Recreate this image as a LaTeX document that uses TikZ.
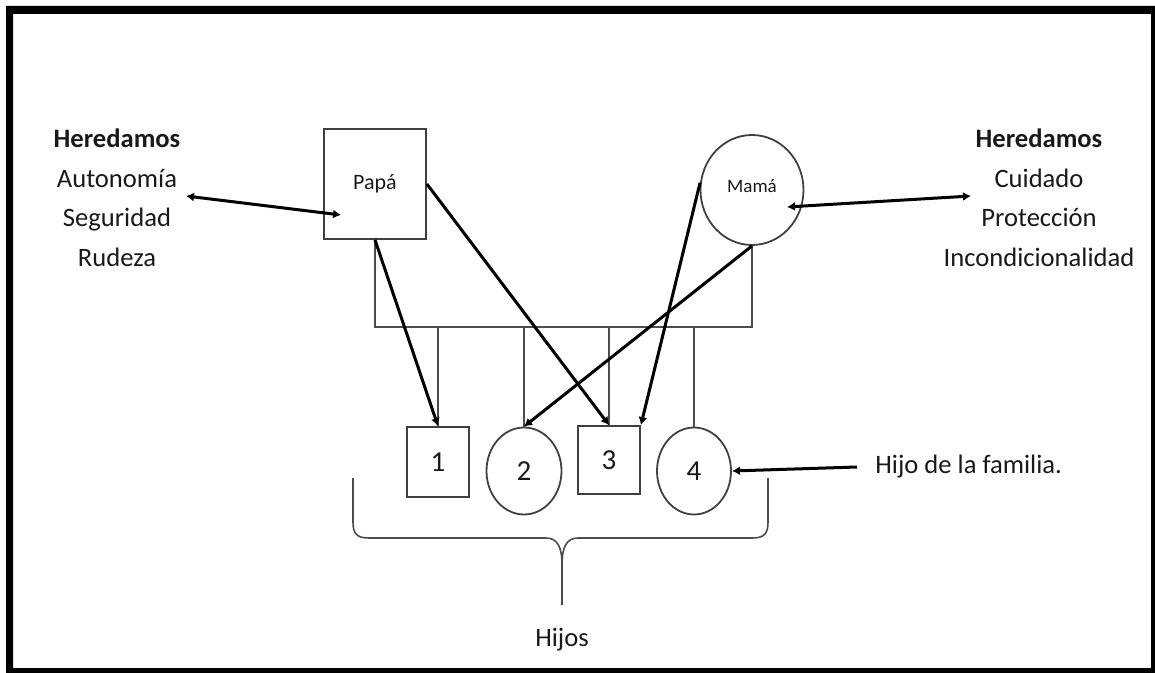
\documentclass[tikz,border=0pt]{standalone}
\usepackage{fontspec}
\setmainfont{Carlito}
\usetikzlibrary{positioning,arrows.meta,shapes.geometric}

\begin{document}
\begin{tikzpicture}[
  x=0.5pt, y=-0.5pt,
  font=\fontsize{13.3}{19.75}\selectfont,
  every node/.style={text=black!90},
  male/.style={rectangle, draw=black!75, line width=0.9pt, inner sep=0pt,
               minimum width=#1},
  female/.style={ellipse, draw=black!75, line width=0.9pt, inner sep=0pt},
  kid/.style={font=\fontsize{14.5}{16}\selectfont},
  link/.style={draw=black!70, line width=0.8pt},
  arrow/.style={-{Latex[length=4pt,width=4.5pt]}, line width=1.5pt, draw=black},
  both/.style={{Latex[length=4pt,width=4.5pt]}-{Latex[length=4pt,width=4.5pt]},
               line width=1.5pt, draw=black},
  lbl/.style={align=center, inner sep=0pt},
]
\useasboundingbox (0,0) rectangle (1155,673);

% ---- frame ----
\fill[black, even odd rule] (6,6) rectangle (1165,683) (13,14) rectangle (1151,668);

% ---- parents ----
\node[male=51pt, minimum height=55pt] (papa) at (375,184)
      {\fontsize{11}{12}\selectfont Papá};
\node[female, minimum width=51.5pt, minimum height=55pt] (mama) at (752,190)
      {\fontsize{9.5}{11}\selectfont\raisebox{4pt}{Mamá}};

% ---- children ----
\node[male=31pt, minimum height=35pt, kid] (c1) at (438,462) {1};
\node[female, minimum width=37.5pt, minimum height=43.5pt, kid] (c2) at (524,471) {2};
\node[male=31pt, minimum height=34pt, kid] (c3) at (609,460) {3};
\node[female, minimum width=37pt, minimum height=43.5pt, kid] (c4) at (694,471) {4};

% ---- family bar and drops ----
\coordinate (bar) at (0,327);
\draw[link] (papa.south) -- (papa.south |- bar) -| (mama.south);
\foreach \c in {c1,c2,c3,c4}
  \draw[link] (\c.north |- bar) -- (\c.north);

% ---- inheritance arrows ----
\draw[arrow] (papa.south) -- (c1.north);
\draw[arrow] (papa.east) -- (c3.north);
\draw[arrow] (mama.172) -- (c3.north east);
\draw[arrow] (mama.south) -- (c2.north);

% ---- side texts ----
\node[lbl] (left) at (117,198)
   {\textbf{Heredamos}\\Autonomía\\Seguridad\\Rudeza};
\node[lbl] (right) at (1039,198)
   {\textbf{Heredamos}\\Cuidado\\Protección\\Incondicionalidad};
\coordinate (lhead) at (186,196);
\coordinate (papain) at (341,215);
\coordinate (mamain) at (787,207);
\coordinate (rhead) at (971,196);
\draw[both] (lhead) -- (papain);
\draw[both] (mamain) -- (rhead);

\node[lbl, anchor=west] (hijo) at (875,467) {Hijo de la familia.};
\draw[arrow] ([xshift=-9pt]hijo.west) -- (c4.east);

% ---- brace ----
\draw[link] (353,478) -- (353,522) .. controls (353,534) and (357,538) .. (369,538)
  -- (546,538) .. controls (558,538) and (562,548) .. (562,565) -- (562,605);
\draw[link] (768,478) -- (768,522) .. controls (768,534) and (764,538) .. (752,538)
  -- (578,538) .. controls (566,538) and (562,548) .. (562,565);
\node[lbl] (hijos) at (562,640) {Hijos};

\end{tikzpicture}
\end{document}
